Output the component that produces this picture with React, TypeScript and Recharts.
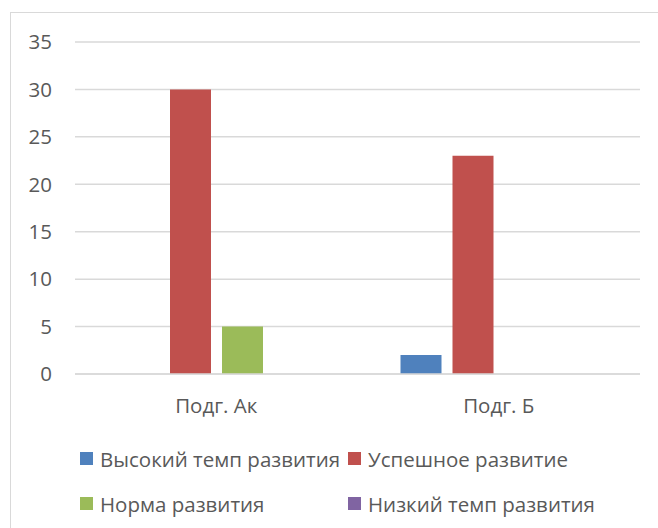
import { BarChart, Bar, XAxis, YAxis, CartesianGrid, Legend } from 'recharts';

const categories = ['Подг. Ак', 'Подг. Б'];
const highPace = [0, 2];
const successful = [30, 23];
const normal = [5, 0];
const lowPace = [0, 0];
const yTicks = [0, 5, 10, 15, 20, 25, 30, 35];

const SERIES = [
  { key: 'high', name: 'Высокий темп развития', color: '#4F81BD' },
  { key: 'success', name: 'Успешное развитие', color: '#C0504D' },
  { key: 'norm', name: 'Норма развития', color: '#9BBB59' },
  { key: 'low', name: 'Низкий темп развития', color: '#8064A2' },
];

const data = categories.map((name, i) => ({
  name,
  high: highPace[i],
  success: successful[i],
  norm: normal[i],
  low: lowPace[i],
}));

const FONT = '"Open Sans", sans-serif';
const TEXT = '#595959';

const renderLegend = (props: any) => {
  const order = SERIES.map((s) => s.name);
  // keep the legend in series order, not alphabetical
  const items = [...(props.payload || [])].sort(
    (a: any, b: any) => order.indexOf(a.value) - order.indexOf(b.value)
  );
  return (
    <div
      style={{
        display: 'flex',
        flexWrap: 'wrap',
        paddingLeft: 80,
        boxSizing: 'border-box',
        width: 658,
        fontFamily: FONT,
        fontSize: 20.5,
        color: TEXT,
      }}
    >
      {items.map((it: any) => (
        <div key={it.value} style={{ width: 268, height: 45, display: 'flex', alignItems: 'center' }}>
          <span style={{ width: 13, height: 13, background: it.color, marginRight: 7, display: 'inline-block' }} />
          <span>{it.value}</span>
        </div>
      ))}
    </div>
  );
};

export default function App() {
  return (
    <div style={{ position: 'absolute', left: 0, top: 0, width: 658, height: 528, overflow: 'hidden', background: '#fff' }}>
      <div
        style={{
          position: 'absolute',
          left: 10,
          top: 12,
          width: 700,
          height: 600,
          border: '1px solid #d9d9d9',
        }}
      />
      <BarChart
        width={658}
        height={528}
        data={data}
        margin={{ top: 42, right: 18, bottom: 124, left: 0 }}
        barSize={41}
        barGap={11}
      >
        <CartesianGrid vertical={false} stroke="#d9d9d9" strokeWidth={1.5} />
        <XAxis
          dataKey="name"
          height={30}
          tickLine={false}
          tickSize={0}
          tickMargin={24}
          axisLine={{ stroke: '#d9d9d9', strokeWidth: 1.5 }}
          tick={{ fill: TEXT, fontSize: 20.5, fontFamily: FONT }}
        />
        <YAxis
          width={75}
          domain={[0, 35]}
          ticks={yTicks}
          tickLine={false}
          axisLine={false}
          tickSize={0}
          tickMargin={23}
          tick={{ fill: TEXT, fontSize: 20.5, fontFamily: FONT }}
        />
        <Legend
          layout="horizontal"
          verticalAlign="middle"
          align="center"
          content={renderLegend}
          wrapperStyle={{ left: 0, top: 436, width: 658 }}
        />
        {SERIES.map((s) => (
          <Bar key={s.key} dataKey={s.key} name={s.name} fill={s.color} isAnimationActive={false} />
        ))}
      </BarChart>
    </div>
  );
}
